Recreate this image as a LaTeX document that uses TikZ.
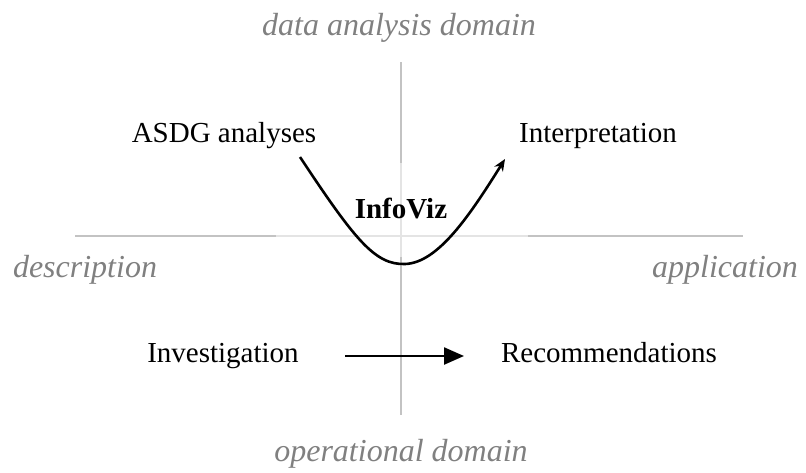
\documentclass[tikz,border=0pt]{standalone}
\usepackage{fontspec}
\setmainfont{Liberation Serif}
\usetikzlibrary{arrows.meta}
\definecolor{axisdark}{RGB}{195,195,195}
\definecolor{axislight}{RGB}{228,228,228}
\definecolor{labgray}{RGB}{128,128,128}
\begin{document}
\begin{tikzpicture}[x=1pt,y=-1pt,
  domainlab/.style={text=labgray,font=\fontsize{32}{36}\selectfont\itshape,inner sep=0pt},
  itemlab/.style={text=black,font=\fontsize{29}{34}\selectfont,inner sep=0pt},
  axisd/.style={draw=axisdark,line width=2.6pt},
  axisl/.style={draw=axislight,line width=2.6pt}]
\useasboundingbox (0,0) rectangle (806,472);
% axes
\coordinate (hl) at (75,236);
\coordinate (hm1) at (276,236);
\coordinate (hm2) at (528,236);
\coordinate (hr) at (743,236);
\coordinate (vt) at (401,62);
\coordinate (vm1) at (401,163);
\coordinate (vm2) at (401,257);
\coordinate (vb) at (401,415);
\draw[axisl] (hm1) -- (hm2);
\draw[axisd] (hl) -- (hm1);
\draw[axisd] (hm2) -- (hr);
\draw[axisl,line width=2pt] (vm1) -- (vm2);
\draw[axisd,line width=2pt] (vt) -- (vm1);
\draw[axisd,line width=2pt] (vm2) -- (vb);
% domain labels
\node[domainlab] (top) at (399,28) {data analysis domain};
\node[domainlab] (bot) at (401,454) {operational domain};
\node[domainlab] (left) at (85,270) {description};
\node[domainlab] (right) at (725,270) {application};
% items
\node[itemlab] (asdg) at (224,136) {ASDG analyses};
\node[itemlab] (interp) at (598,136) {Interpretation};
\node[itemlab] (invest) at (223,356) {Investigation};
\node[itemlab] (recom) at (609,353) {Recommendations};
\node[itemlab,font=\fontsize{29}{34}\selectfont\bfseries] (infoviz) at (401,209) {InfoViz};
% curve
\coordinate (cs) at (300,157);
\coordinate (cb) at (405,264);
\coordinate (ce) at (505,159);
\draw[line width=2.6pt,-{Stealth[length=12pt,width=10pt]}]
  (cs) .. controls (355,240) and (375,265) .. (cb)
  .. controls (438,263) and (470,215) .. (ce);
% bottom arrow
\coordinate (as) at (345,356);
\coordinate (ae) at (464,356);
\draw[line width=2.4pt,-{Triangle[length=20pt,width=17pt]}] (as) -- (ae);
\end{tikzpicture}
\end{document}
